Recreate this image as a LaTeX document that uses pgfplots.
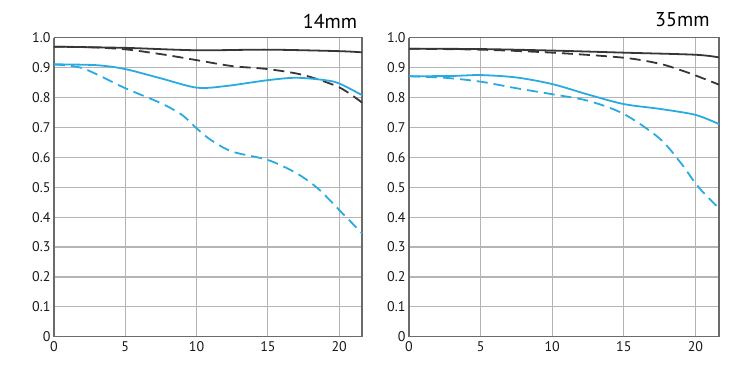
\documentclass[border=0pt]{standalone}
\usepackage{pgfplots}
\pgfplotsset{compat=1.18}
\usepackage{fontspec}
\setmainfont{PT Sans}
\definecolor{mtfblue}{HTML}{29ABE2}
\definecolor{mtfblack}{HTML}{3A3535}
\definecolor{gridgray}{HTML}{B4B4B4}
\definecolor{axisgray}{HTML}{6E6A6A}
\pgfplotsset{
  mtf/.style={
    scale only axis, height=299pt,
    xmin=0, ymin=0, ymax=1,
    axis lines*=left,
    axis line style={axisgray, line width=1.5pt},
    xtick={0,5,10,15,20},
    ytick={0,0.1,0.2,0.3,0.4,0.5,0.6,0.7,0.8,0.9,1.0},
    yticklabels={0,0.1,0.2,0.3,0.4,0.5,0.6,0.7,0.8,0.9,1.0},
    major tick length=0pt,
    grid=major,
    major grid style={gridgray, line width=1.2pt},
    tick label style={font=\fontsize{14}{15}\selectfont, text=black!90},
    /pgf/number format/assume math mode=true,
    xticklabel style={yshift=-1pt},
    yticklabel style={xshift=0pt},
    clip=false,
  },
  solidline/.style={line width=1.8pt, smooth},
  dashline/.style={line width=1.8pt, smooth, dash pattern=on 11pt off 6pt},
}
\begin{document}
\begin{tikzpicture}
\path[use as bounding box] (0pt,0pt) rectangle (750pt,381pt);
% Left: 14mm
\begin{axis}[mtf, at={(54pt,44.3pt)}, anchor=south west, width=308pt, xmax=21.6]
\draw[axisgray, line width=1.2pt] (rel axis cs:0,1) -- (rel axis cs:1,1) -- (rel axis cs:1,0);
\addplot[mtfblack, solidline] coordinates {(0,0.970) (5,0.966) (10,0.958) (15,0.960) (20,0.955) (21.6,0.951)};
\addplot[mtfblack, dashline] coordinates {(0,0.970) (2.5,0.968) (5,0.961) (7.5,0.945) (10,0.925) (12.5,0.905) (15,0.895) (17.5,0.875) (20,0.834) (21.6,0.783)};
\addplot[mtfblue, solidline] coordinates {(0,0.911) (3,0.908) (5,0.895) (7.5,0.864) (10,0.833) (12,0.838) (15,0.858) (17,0.866) (19,0.858) (20,0.847) (21.6,0.808)};
\addplot[mtfblue, dashline] coordinates {(0,0.910) (2,0.898) (5,0.831) (7.5,0.781) (9,0.741) (10,0.697) (11,0.658) (12.5,0.619) (15,0.591) (17,0.547) (18.5,0.496) (20,0.424) (21.6,0.346)};
\node[anchor=south east, font=\fontsize{20}{21}\selectfont, inner sep=0pt] at (rel axis cs:0.985,1.03) {14mm};
\end{axis}
% Right: 35mm
\begin{axis}[mtf, at={(409pt,44.3pt)}, anchor=south west, width=310pt, xmax=21.65]
\draw[axisgray, line width=1.2pt] (rel axis cs:0,1) -- (rel axis cs:1,1) -- (rel axis cs:1,0);
\addplot[mtfblack, solidline] coordinates {(0,0.963) (5,0.962) (10,0.957) (15,0.950) (20,0.943) (21.65,0.934)};
\addplot[mtfblack, dashline] coordinates {(0,0.963) (5,0.960) (10,0.950) (15,0.933) (17.5,0.913) (19,0.891) (20,0.874) (21.65,0.843)};
\addplot[mtfblue, solidline] coordinates {(0,0.871) (3,0.872) (5,0.875) (7.5,0.867) (10,0.845) (12.5,0.810) (15,0.778) (17.5,0.762) (20,0.742) (21.65,0.711)};
\addplot[mtfblue, dashline] coordinates {(0,0.871) (2.5,0.866) (5,0.853) (7.5,0.831) (10,0.811) (12.5,0.789) (15,0.745) (17.5,0.663) (19,0.580) (20,0.513) (20.5,0.485) (21.65,0.429)};
\node[anchor=south east, font=\fontsize{20}{21}\selectfont, inner sep=0pt] at (rel axis cs:0.97,1.035) {35mm};
\end{axis}
\end{tikzpicture}
\end{document}
